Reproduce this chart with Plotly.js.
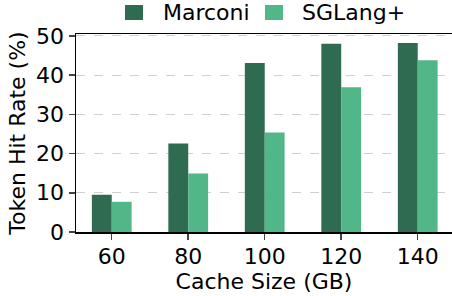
<!DOCTYPE html>
<html>
<head>
<meta charset="utf-8">
<script src="https://cdn.plot.ly/plotly-3.0.1.min.js"></script>
<style>html,body{margin:0;padding:0;background:#fff;}</style>
</head>
<body>
<div id="chart" style="width:452px;height:296px;"></div>
<script>
const cacheSizes = ["60", "80", "100", "120", "140"];
const marconi = [9.5, 22.6, 43.1, 48.0, 48.2];
const sglang = [7.7, 14.9, 25.4, 36.9, 43.8];
const seriesNames = ["Marconi", "SGLang+"];
const seriesColors = ["#2e6b50", "#52b788"];

const idx = cacheSizes.map((_, i) => i);
const barW = 0.26;
const font = "DejaVu Sans, sans-serif";
const fs = 22;

const traces = [
  {type: "bar", name: seriesNames[0], x: idx.map(i => i - barW / 2), y: marconi, width: barW,
   marker: {color: seriesColors[0], line: {width: 0}}},
  {type: "bar", name: seriesNames[1], x: idx.map(i => i + barW / 2), y: sglang, width: barW,
   marker: {color: seriesColors[1], line: {width: 0}}}
];

// manual legend (paper coords; plot area spans x 76..452, y 34..232 px)
const L = 76, T = 34, W = 376, H = 198;
const px = v => (v - L) / W;
const py = v => (T + H - v) / H;
const legendItems = [
  {x0: 125, x1: 143, tx: 161},
  {x0: 265, x1: 283, tx: 300}
];
const shapes = [];
const annotations = [];
legendItems.forEach((it, k) => {
  shapes.push({type: "rect", xref: "paper", yref: "paper",
    x0: px(it.x0), x1: px(it.x1), y0: py(20), y1: py(5),
    fillcolor: seriesColors[k], line: {width: 0}, layer: "above"});
  annotations.push({xref: "paper", yref: "paper", x: px(it.tx), y: py(12.5),
    xanchor: "left", yanchor: "middle", showarrow: false, text: seriesNames[k],
    font: {family: font, size: fs, color: "#000"}});
});

const layout = {
  width: 452, height: 296,
  margin: {l: L, r: 0, t: T, b: 296 - T - H},
  paper_bgcolor: "#fff", plot_bgcolor: "#fff",
  font: {family: font, size: fs, color: "#000"},
  barmode: "overlay",
  showlegend: false,
  shapes: shapes,
  annotations: annotations,
  xaxis: {
    range: [-0.467, 4.448], tickmode: "array", tickvals: idx, ticktext: cacheSizes,
    ticks: "outside", ticklen: 6, tickwidth: 1.5, tickcolor: "#444",
    ticklabelstandoff: -2,
    showline: true, linecolor: "#000", linewidth: 1.5, mirror: true,
    showgrid: false, zeroline: false, automargin: false,
    title: {text: "Cache Size (GB)", font: {family: font, size: fs}, standoff: 0},
    tickfont: {family: font, size: fs}
  },
  yaxis: {
    range: [0, 50.5], tickvals: [0, 10, 20, 30, 40, 50],
    ticks: "outside", ticklen: 6, tickwidth: 1.5, tickcolor: "#444",
    showline: true, linecolor: "#000", linewidth: 1.5,
    showgrid: true, gridcolor: "#d0d0d0", griddash: "dash", gridwidth: 1,
    zeroline: false, automargin: false,
    title: {text: "Token Hit Rate (%)", font: {family: font, size: fs}, standoff: 4},
    tickfont: {family: font, size: fs}
  }
};

Plotly.newPlot("chart", traces, layout, {displayModeBar: false, staticPlot: true});
</script>
</body>
</html>
